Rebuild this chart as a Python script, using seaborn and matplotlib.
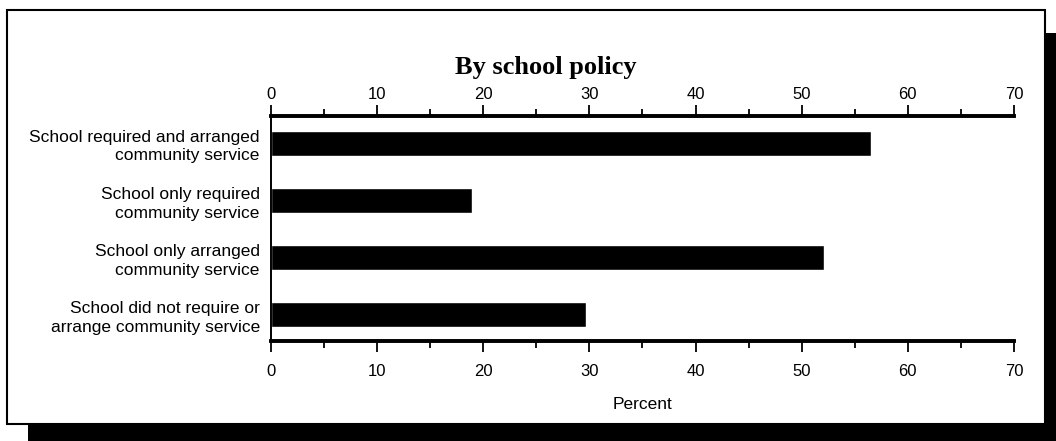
import matplotlib
matplotlib.use('Agg')
import matplotlib.pyplot as plt
from matplotlib.patches import Rectangle
from matplotlib.ticker import MultipleLocator
import pandas as pd
import seaborn as sns

# data
categories = [
    'School required and arranged\ncommunity service',
    'School only required\ncommunity service',
    'School only arranged\ncommunity service',
    'School did not require or\narrange community service',
]
percent = [56.5, 18.9, 52.1, 29.7]
x_ticks = [0, 10, 20, 30, 40, 50, 60, 70]

df = pd.DataFrame({'category': categories, 'percent': percent})

sns.set_theme(style='white')
plt.rcParams['font.family'] = ['Liberation Sans', 'DejaVu Sans']

fig = plt.figure(figsize=(10.56, 4.41), dpi=100)
ax = fig.add_axes([0.2566, 0.2268, 0.7036, 0.5102])

sns.barplot(data=df, x='percent', y='category', orient='h', color='black',
            width=0.43, saturation=1, ax=ax)

ax.set_xlim(0, 70)
ax.set_ylim(3.46, -0.48)
ax.set_xticks(x_ticks)
ax.xaxis.set_minor_locator(MultipleLocator(5))
ax.tick_params(axis='x', which='both', bottom=True, top=False, direction='out',
               color='black', width=1.3, labelsize=12, labelcolor='black')
ax.tick_params(axis='x', which='major', length=8, pad=8.5)
ax.tick_params(axis='x', which='minor', length=5)
ax.tick_params(axis='y', left=False, length=0, labelsize=12.5, pad=8,
               labelcolor='black')
for lab in ax.get_yticklabels():
    lab.set_multialignment('right')
    lab.set_linespacing(1.3)

# top axis repeats the scale
top = ax.twiny()
top.set_xlim(ax.get_xlim())
top.set_xticks(x_ticks)
top.xaxis.set_minor_locator(MultipleLocator(5))
top.tick_params(axis='x', which='both', top=True, direction='out',
                color='black', width=1.3, labelsize=12, labelcolor='black')
top.tick_params(axis='x', which='major', length=8, pad=2)
top.tick_params(axis='x', which='minor', length=5)

for a in [ax, top]:
    for side in ['top', 'bottom']:
        a.spines[side].set_linewidth(2.6)
        a.spines[side].set_color('black')
    a.spines['left'].set_linewidth(1.2)
    a.spines['left'].set_color('black')
    a.spines['right'].set_visible(False)

ax.set_xlabel('Percent', fontsize=12.5, color='black', labelpad=13)
ax.set_ylabel('')

fig.text(0.517, 0.848, 'By school policy', ha='center', va='center', color='black',
         fontsize=19, fontweight='bold', family='Liberation Serif')

# outer frame with drop shadow
fig.patches.append(Rectangle((0.9896, 0.0), 0.0104, 0.925, transform=fig.transFigure,
                             facecolor='black', edgecolor='none', zorder=0))
fig.patches.append(Rectangle((0.0265, 0.0), 0.9735, 0.0385, transform=fig.transFigure,
                             facecolor='black', edgecolor='none', zorder=0))
fig.patches.append(Rectangle((0.0066, 0.0385), 0.983, 0.9385, transform=fig.transFigure,
                             facecolor='none', edgecolor='black', linewidth=1.5, zorder=1))

fig.savefig('out.png', dpi=100)
